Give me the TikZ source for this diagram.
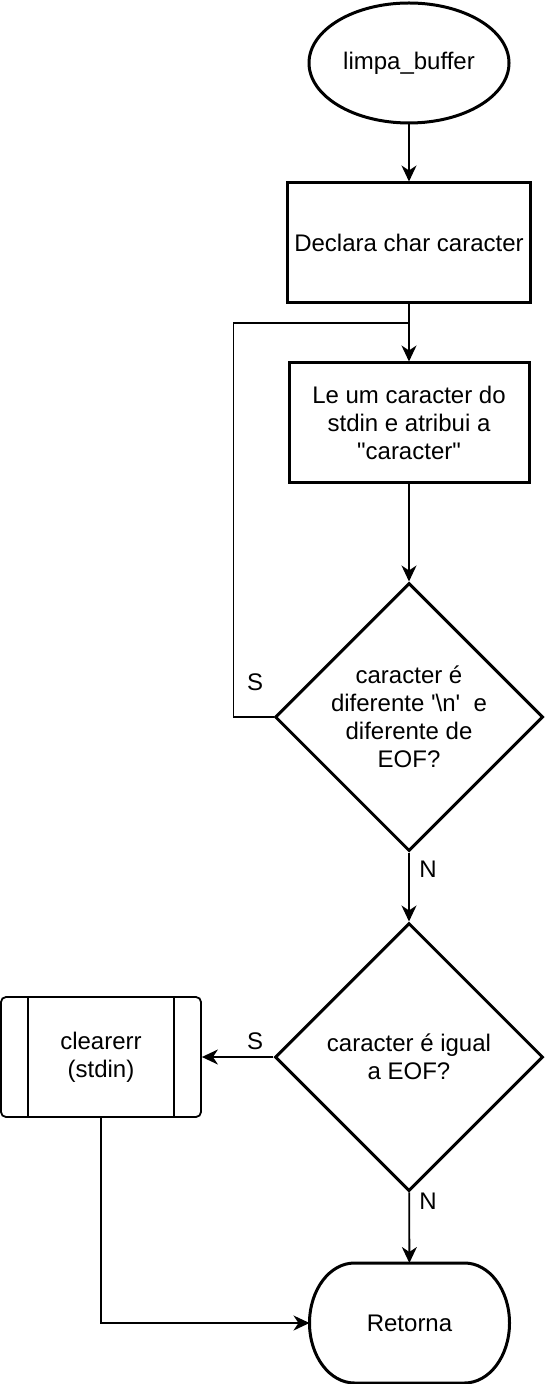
\documentclass[tikz,border=0pt]{standalone}
\usepackage{fontspec}
\setmainfont{Liberation Sans}
\usetikzlibrary{arrows.meta,shapes.geometric,positioning}
\tikzstyle{inicio} = [ellipse, minimum width=100pt, minimum height=60pt, inner sep=0pt, draw=black, line width=1.5pt]
\tikzstyle{processo} = [rectangle, minimum width=120pt, minimum height=60pt, text centered, align=center, draw=black, line width=1.5pt]
\tikzstyle{decisao} = [diamond, minimum width=134pt, minimum height=134pt, inner sep=0pt, draw=black, line width=1.5pt]
\tikzstyle{subrotina} = [rectangle, rounded corners=2.5pt, minimum width=100pt, minimum height=60pt, align=center, draw=black, line width=0.9pt]
\tikzstyle{terminal} = [rectangle, minimum width=100pt, minimum height=60pt, outer sep=0pt]
\tikzstyle{seta} = [-{Stealth[length=8pt,width=7.5pt,inset=2.5pt]}, line width=0.9pt]
\tikzstyle{linha} = [line width=0.9pt]

\begin{document}
\begin{tikzpicture}[x=0.5pt, y=-0.5pt, font=\fontsize{12}{14}\selectfont]
 \useasboundingbox (0,0) rectangle (546,1384);

 \node (inicio) [inicio] at (409,63) {limpa\_buffer};
 \node (declara) [processo] at (409,243) {Declara char caracter};
 \node (le) [processo] at (409,423) {Le um caracter do\\stdin e atribui a\\\textquotedbl caracter\textquotedbl};
 \node (dec1) [decisao, label={[align=center]center:{caracter é\\diferente \textquotesingle\textbackslash n\textquotesingle\ \ e\\diferente de\\EOF?}}] at (409,717) {};
 \node (dec2) [decisao, label={[align=center]center:{caracter é igual\\a EOF?}}] at (409,1057) {};
 \node (limpa) [subrotina] at (101,1057) {clearerr\\(stdin)};
 \node (fim) [terminal] at (409.5,1323) {Retorna};

 % bordas internas da subrotina e forma do terminal
 \draw[linha] ([xshift=14pt]limpa.north west) -- ([xshift=14pt]limpa.south west);
 \draw[linha] ([xshift=-14pt]limpa.north east) -- ([xshift=-14pt]limpa.south east);
 \draw[line width=1.5pt] ([xshift=22.5pt]fim.north west) -- ([xshift=-22.5pt]fim.north east)
   arc[start angle=-90, end angle=90, x radius=45, y radius=60]
   -- ([xshift=22.5pt]fim.south west)
   arc[start angle=90, end angle=270, x radius=45, y radius=60] -- cycle;

 \coordinate (juncao) at (409,323);
 \draw[seta] (inicio) -- (declara);
 \draw[seta] (declara) -- (le);
 \draw[linha] (dec1.west) -- ++(-40,0) |- (juncao);
 \draw[seta] (le) -- (dec1);
 \draw[seta] (dec1) -- (dec2);
 \draw[seta] (dec2) -- (limpa);
 \draw[seta] (dec2) -- (fim);
 \draw[seta] (limpa) |- (fim);

 \node (s1) at (255,682) {S};
 \node (n1) at (428,869) {N};
 \node (s2) at (255,1041) {S};
 \node (n2) at (428,1201) {N};
\end{tikzpicture}
\end{document}
